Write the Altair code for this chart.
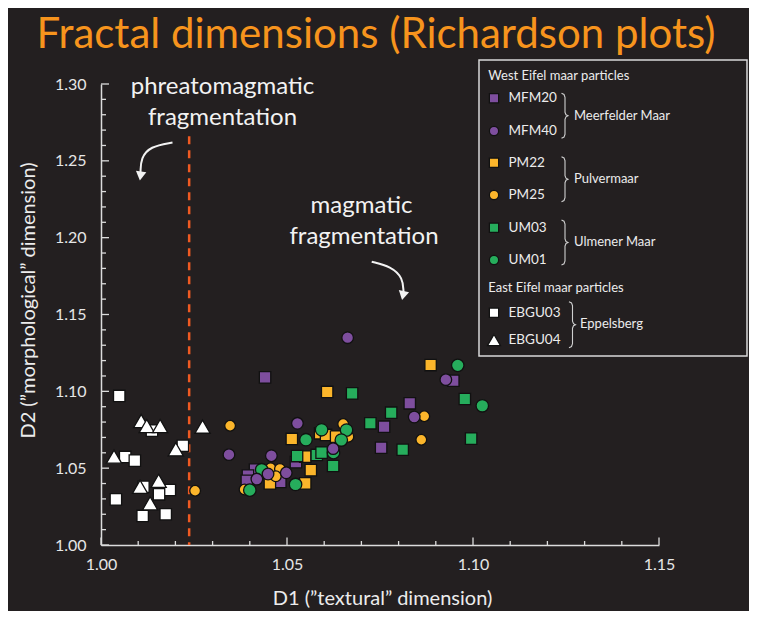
import altair as alt
import pandas as pd

BG = "#231f20"
FONT = "Lato"
W, H = 558, 461
X0, X1 = 1.00, 1.15
Y0, Y1 = 1.00, 1.30

# ---------------- data ----------------
samples = ["EBGU03", "EBGU04", "MFM20", "PM22", "UM03", "PM25", "UM01", "MFM40"]
sample_colors = ["#ffffff", "#ffffff", "#7e4e9e", "#fbb52b", "#26ad5c", "#fbb52b", "#26ad5c", "#7e4e9e"]
sample_shapes = ["square", "triangle-up", "square", "square", "square", "circle", "circle", "circle"]
sample_sizes = [130, 230, 130, 130, 130, 115, 155, 135]

ebgu03_x = [1.0049, 1.0065, 1.0091, 1.0220, 1.0137, 1.0114, 1.0185, 1.0156, 1.0040, 1.0112, 1.0174]
ebgu03_y = [1.0970, 1.0573, 1.0549, 1.0646, 1.0744, 1.0379, 1.0358, 1.0330, 1.0297, 1.0189, 1.0200]

ebgu04_x = [1.0108, 1.0123, 1.0159, 1.0273, 1.0201, 1.0035, 1.0105, 1.0155, 1.0132]
ebgu04_y = [1.0807, 1.0774, 1.0774, 1.0770, 1.0623, 1.0575, 1.0379, 1.0418, 1.0271]

mfm20_x = [1.0441, 1.0524, 1.0414, 1.0395, 1.0392, 1.0482, 1.0947, 1.0830, 1.0761, 1.0753]
mfm20_y = [1.1091, 1.0539, 1.0491, 1.0452, 1.0418, 1.0411, 1.1069, 1.0922, 1.0770, 1.0633]

mfm40_x = [1.0663, 1.0528, 1.0344, 1.0458, 1.0624, 1.0449, 1.0498, 1.0419, 1.0927, 1.0842]
mfm40_y = [1.1349, 1.0792, 1.0588, 1.0581, 1.0627, 1.0462, 1.0470, 1.0429, 1.1076, 1.0833]

pm22_x = [1.0608, 1.0513, 1.0589, 1.0605, 1.0632, 1.0549, 1.0564, 1.0549, 1.0454, 1.0886]
pm22_y = [1.0996, 1.0690, 1.0727, 1.0716, 1.0705, 1.0575, 1.0487, 1.0401, 1.0401, 1.1171]

pm25_x = [1.0253, 1.0347, 1.0651, 1.0665, 1.0456, 1.0481, 1.0470, 1.0386, 1.0869, 1.0861]
pm25_y = [1.0353, 1.0776, 1.0787, 1.0705, 1.0499, 1.0495, 1.0447, 1.0361, 1.0838, 1.0685]

um03_x = [1.0675, 1.0724, 1.0527, 1.0580, 1.0593, 1.0624, 1.0978, 1.0780, 1.0811, 1.0995]
um03_y = [1.0987, 1.0792, 1.0579, 1.0586, 1.0601, 1.0514, 1.0950, 1.0861, 1.0620, 1.0692]

um01_x = [1.0593, 1.0660, 1.0551, 1.0646, 1.0625, 1.0432, 1.0523, 1.0400, 1.0959, 1.1025]
um01_y = [1.0750, 1.0748, 1.0685, 1.0683, 1.0601, 1.0490, 1.0394, 1.0357, 1.1169, 1.0906]

series = {
    "EBGU03": (ebgu03_x, ebgu03_y), "EBGU04": (ebgu04_x, ebgu04_y),
    "MFM20": (mfm20_x, mfm20_y), "PM22": (pm22_x, pm22_y), "UM03": (um03_x, um03_y),
    "PM25": (pm25_x, pm25_y), "UM01": (um01_x, um01_y), "MFM40": (mfm40_x, mfm40_y),
}

boundary_x = 1.0237
boundary_top = 1.266

x_tick_labels = [1.00, 1.05, 1.10, 1.15]
y_tick_labels = [1.00, 1.05, 1.10, 1.15, 1.20, 1.25, 1.30]
x_minor = [round(1.00 + i * 0.01, 2) for i in range(16)]
y_minor = [round(1.00 + i * 0.01, 2) for i in range(31)]

title_text = "Fractal dimensions (Richardson plots)"
x_title = "D1 (\u201dtextural\u201d dimension)"
y_title = "D2 (\u201dmorphological\u201d dimension)"

# legend content
legend_items = ["MFM20", "MFM40", "PM22", "PM25", "UM03", "UM01", "EBGU03", "EBGU04"]
legend_headers = ["West Eifel maar particles", "East Eifel maar particles"]
legend_groups = ["Meerfelder Maar", "Pulvermaar", "Ulmener Maar", "Eppelsberg"]

# ---------------- helpers: page pixel -> data units ----------------
def dx(px):
    return X0 + (px - 101) * (X1 - X0) / W

def dy(py):
    return Y0 + (545 - py) * (Y1 - Y0) / H

xs = alt.Scale(domain=[X0, X1], nice=False, zero=False)
ys = alt.Scale(domain=[Y0, Y1], nice=False, zero=False)
color_scale = alt.Scale(domain=samples, range=sample_colors)
shape_scale = alt.Scale(domain=samples, range=sample_shapes)
size_scale = alt.Scale(type="ordinal", domain=samples, range=sample_sizes)

rows = []
for s in samples:
    xv, yv = series[s]
    for a, b in zip(xv, yv):
        rows.append({"D1": a, "D2": b, "sample": s})
pts = pd.DataFrame(rows)

base_x = alt.X("D1:Q", scale=xs,
               axis=alt.Axis(title=x_title, values=x_tick_labels, format=".2f",
                             titleX=281, titleY=59, titleBaseline="alphabetic",
                             labelPadding=11, labelFlush=False))
base_y = alt.Y("D2:Q", scale=ys,
               axis=alt.Axis(title=y_title, values=y_tick_labels, format=".2f",
                             titleX=-67, titleY=216, titleBaseline="alphabetic",
                             titleAngle=-90, labelPadding=15, labelFlush=False))

points = alt.Chart(pts).mark_point(filled=True, opacity=1, stroke="#111111",
                                   strokeWidth=1.3).encode(
    x=base_x, y=base_y,
    color=alt.Color("sample:N", scale=color_scale, legend=None),
    shape=alt.Shape("sample:N", scale=shape_scale, legend=None),
    size=alt.Size("sample:N", scale=size_scale, legend=None),
)

# dashed boundary
bnd = alt.Chart(pd.DataFrame({"x": [boundary_x], "y": [boundary_top], "y2": [Y0]})).mark_rule(
    color="#f05a22", strokeWidth=2.5, strokeDash=[8, 6]).encode(
    x=alt.X("x:Q", scale=xs), y=alt.Y("y:Q", scale=ys), y2="y2:Q")

# inward ticks
tick_col = "#dcdcdc"
xmin_df = pd.DataFrame({"v": [v for v in x_minor if v not in x_tick_labels]})
xmaj_df = pd.DataFrame({"v": x_tick_labels})
ymin_df = pd.DataFrame({"v": [v for v in y_minor if v not in y_tick_labels]})
ymaj_df = pd.DataFrame({"v": y_tick_labels})
xt_min = alt.Chart(xmin_df).mark_rule(color=tick_col, strokeWidth=1.3).encode(
    x=alt.X("v:Q", scale=xs), y=alt.value(H), y2=alt.value(H - 4))
xt_maj = alt.Chart(xmaj_df).mark_rule(color=tick_col, strokeWidth=1.3).encode(
    x=alt.X("v:Q", scale=xs), y=alt.value(H), y2=alt.value(H - 7.5))
yt_min = alt.Chart(ymin_df).mark_rule(color=tick_col, strokeWidth=1.3).encode(
    y=alt.Y("v:Q", scale=ys), x=alt.value(0), x2=alt.value(5))
yt_maj = alt.Chart(ymaj_df).mark_rule(color=tick_col, strokeWidth=1.3).encode(
    y=alt.Y("v:Q", scale=ys), x=alt.value(0), x2=alt.value(8))

# annotation texts
ann = pd.DataFrame({
    "t": ["phreatomagmatic", "fragmentation", "magmatic", "fragmentation"],
    "x": [dx(222.5), dx(222.5), dx(361.5), dx(364)],
    "y": [dy(93.5), dy(125), dy(212.7), dy(244.3)],
})
ann_text = alt.Chart(ann).mark_text(font=FONT, fontSize=24, color="#f2f2f2",
                                    baseline="alphabetic", align="center").encode(
    x=alt.X("x:Q", scale=xs), y=alt.Y("y:Q", scale=ys), text="t:N")

# curved arrows
arr = pd.DataFrame({
    "id": [1, 1, 1, 1, 2, 2, 2, 2],
    "o": [0, 1, 2, 3, 0, 1, 2, 3],
    "x": [dx(172.5), dx(150), dx(141), dx(140.5), dx(371.7), dx(391), dx(403), dx(403.5)],
    "y": [dy(142.5), dy(146.5), dy(158), dy(172), dy(261.7), dy(266.5), dy(278), dy(292)],
})
arrows = alt.Chart(arr).mark_line(color="#f2f2f2", strokeWidth=2, interpolate="basis").encode(
    x=alt.X("x:Q", scale=xs), y=alt.Y("y:Q", scale=ys), detail="id:N", order="o:Q")
heads = alt.Chart(pd.DataFrame({"x": [dx(140.5), dx(403)], "y": [dy(176), dy(295.5)],
                                "a": [8, 12]})).mark_point(
    shape="triangle-down", filled=True, color="#f2f2f2", size=110, opacity=1).encode(
    x=alt.X("x:Q", scale=xs), y=alt.Y("y:Q", scale=ys), angle=alt.Angle("a:Q", scale=None))

# title
title = alt.Chart(pd.DataFrame({"t": [title_text]})).mark_text(
    font=FONT, fontSize=42, color="#f7941d", align="center", baseline="alphabetic").encode(
    text="t:N", x=alt.value(376 - 101), y=alt.value(48 - 84))

# legend box
box = alt.Chart(pd.DataFrame({"x": [dx(479)], "x2": [dx(747)], "y": [dy(60)], "y2": [dy(356)]})).mark_rect(
    fill=BG, stroke="#d9d9d9", strokeWidth=1.5).encode(
    x=alt.X("x:Q", scale=xs), x2="x2:Q", y=alt.Y("y:Q", scale=ys), y2="y2:Q")

leg_row_y = [98.3, 131, 162.7, 195, 227.7, 260, 312.7, 340]
leg_df = pd.DataFrame({"sample": legend_items,
                       "sx": [dx(494)] * 8, "lx": [dx(508.5)] * 8,
                       "y": [dy(v) for v in leg_row_y]})
leg_sym = alt.Chart(leg_df).transform_filter(alt.datum.sample != "EBGU04").mark_point(
    filled=True, opacity=1, stroke="#111111", strokeWidth=1.2, size=85).encode(
    x=alt.X("sx:Q", scale=xs), y=alt.Y("y:Q", scale=ys),
    color=alt.Color("sample:N", scale=color_scale, legend=None),
    shape=alt.Shape("sample:N", scale=shape_scale, legend=None))
leg_tri = alt.Chart(leg_df).transform_filter(alt.datum.sample == "EBGU04").mark_point(
    filled=True, opacity=1, stroke="#111111", strokeWidth=1.2, size=170).encode(
    x=alt.X("sx:Q", scale=xs), y=alt.Y("y:Q", scale=ys),
    color=alt.Color("sample:N", scale=color_scale, legend=None),
    shape=alt.Shape("sample:N", scale=shape_scale, legend=None))
leg_lab = alt.Chart(leg_df).mark_text(font=FONT, fontSize=13.5, color="#ececec",
                                      align="left", baseline="middle").encode(
    x=alt.X("lx:Q", scale=xs), y=alt.Y("y:Q", scale=ys), text="sample:N")

hdr_df = pd.DataFrame({"t": legend_headers + legend_groups,
                       "x": [dx(488.3), dx(488.3), dx(574), dx(574), dx(574), dx(580)],
                       "y": [dy(75.7), dy(288.3), dy(115.7), dy(179), dy(242.3), dy(324.3)]})
leg_hdr = alt.Chart(hdr_df).mark_text(font=FONT, fontSize=13, color="#ececec",
                                      align="left", baseline="middle").encode(
    x=alt.X("x:Q", scale=xs), y=alt.Y("y:Q", scale=ys), text="t:N")

# braces
brace_rows = []
for bid, (bx, by0, by1) in enumerate([(561.5, 93.3, 138.3), (561.5, 156.7, 201.7),
                                       (561.5, 220, 265), (569, 301.7, 347.7)]):
    ym = (by0 + by1) / 2
    pts_b = [(bx, by0), (bx + 2.5, by0 + 1.2), (bx + 3.5, by0 + 4), (bx + 3.5, ym - 3.5),
             (bx + 4.5, ym - 1), (bx + 6.5, ym), (bx + 4.5, ym + 1), (bx + 3.5, ym + 3.5),
             (bx + 3.5, by1 - 4), (bx + 2.5, by1 - 1.2), (bx, by1)]
    for k, (px, py) in enumerate(pts_b):
        brace_rows.append({"id": bid, "o": k, "x": dx(px), "y": dy(py)})
braces = alt.Chart(pd.DataFrame(brace_rows)).mark_line(color="#cfcfcf", strokeWidth=1.1).encode(
    x=alt.X("x:Q", scale=xs), y=alt.Y("y:Q", scale=ys), detail="id:N", order="o:Q")

chart = alt.layer(
    box, bnd, xt_min, xt_maj, yt_min, yt_maj, points, ann_text, arrows, heads, title,
    leg_sym, leg_tri, leg_lab, leg_hdr, braces,
).properties(
    width=W, height=H, background=BG,
    autosize=alt.AutoSizeParams(type="none"),
    padding={"left": 93, "top": 76, "right": 90, "bottom": 66},
).configure_view(stroke=None).configure_axis(
    grid=False, ticks=False, tickSize=0, domainColor="#dcdcdc", domainWidth=1.5,
    labelColor="#e6e6e6", labelFont=FONT, labelFontSize=16,
    titleColor="#ececec", titleFont=FONT, titleFontSize=20, titleFontWeight="normal",
)

chart.save("out.html", embed_options={"renderer": "svg", "actions": False})
